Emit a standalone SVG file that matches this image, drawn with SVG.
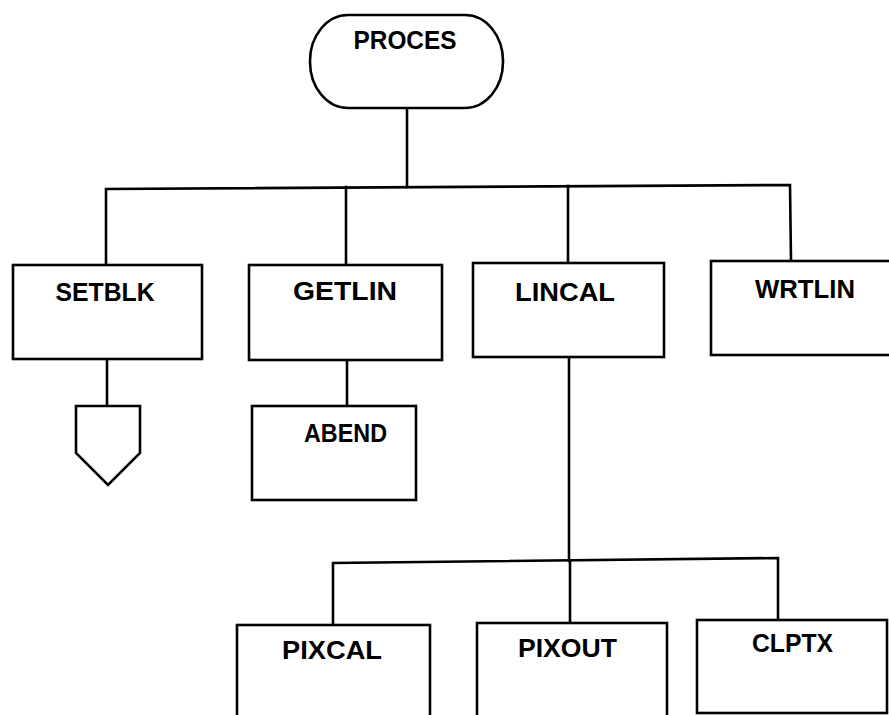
<svg xmlns="http://www.w3.org/2000/svg" width="889" height="715" viewBox="0 0 889 715">
<style>
.box{fill:#fff;stroke:#000;stroke-width:2.6}
.ln{fill:none;stroke:#000;stroke-width:2.6;stroke-linecap:square}
.t{font-family:"Liberation Sans","DejaVu Sans",sans-serif;font-weight:bold;font-size:25px;fill:#000;text-anchor:middle}
</style>
<rect width="889" height="715" fill="#fff"/>
<g id="connectors">
<line class="ln" x1="407" y1="108" x2="407" y2="187"/>
<polyline class="ln" points="106,265 106,189 790,185 791,261"/>
<line class="ln" x1="346" y1="187" x2="346" y2="265"/>
<line class="ln" x1="568" y1="186" x2="568" y2="263"/>
<line class="ln" x1="107" y1="359" x2="107" y2="406"/>
<line class="ln" x1="347" y1="360" x2="347" y2="406"/>
<line class="ln" x1="569" y1="357" x2="569" y2="561"/>
<polyline class="ln" points="333,625 333,563 778,558 778,620"/>
<line class="ln" x1="570" y1="561" x2="570" y2="623"/>
</g>
<g id="proces">
<rect class="box" x="310" y="15" width="193" height="93" rx="38" ry="46"/>
<text class="t" x="405" y="49" textLength="103" lengthAdjust="spacingAndGlyphs">PROCES</text>
</g>
<g id="setblk">
<rect class="box" x="13" y="265" width="189" height="94"/>
<text class="t" x="105" y="301" textLength="99" lengthAdjust="spacingAndGlyphs">SETBLK</text>
</g>
<g id="offpage">
<polygon class="box" points="76,406 140,406 140,453 108,485 76,453"/>
</g>
<g id="getlin">
<rect class="box" x="249" y="265" width="193" height="95"/>
<text class="t" x="345" y="300" textLength="104" lengthAdjust="spacingAndGlyphs">GETLIN</text>
</g>
<g id="abend">
<rect class="box" x="252" y="406" width="164" height="94"/>
<text class="t" x="345.5" y="442" textLength="83" lengthAdjust="spacingAndGlyphs">ABEND</text>
</g>
<g id="lincal">
<rect class="box" x="473" y="263" width="191" height="94"/>
<text class="t" x="565" y="301" textLength="100" lengthAdjust="spacingAndGlyphs">LINCAL</text>
</g>
<g id="wrtlin">
<rect class="box" x="711" y="261" width="200" height="94"/>
<text class="t" x="805" y="298" textLength="100" lengthAdjust="spacingAndGlyphs">WRTLIN</text>
</g>
<g id="pixcal">
<rect class="box" x="237" y="625" width="193" height="110"/>
<text class="t" x="332" y="659" textLength="100" lengthAdjust="spacingAndGlyphs">PIXCAL</text>
</g>
<g id="pixout">
<rect class="box" x="477" y="623" width="190" height="110"/>
<text class="t" x="567.5" y="657" textLength="99" lengthAdjust="spacingAndGlyphs">PIXOUT</text>
</g>
<g id="clptx">
<rect class="box" x="697" y="620" width="190" height="93"/>
<text class="t" x="792.5" y="652" textLength="81" lengthAdjust="spacingAndGlyphs">CLPTX</text>
</g>
</svg>
